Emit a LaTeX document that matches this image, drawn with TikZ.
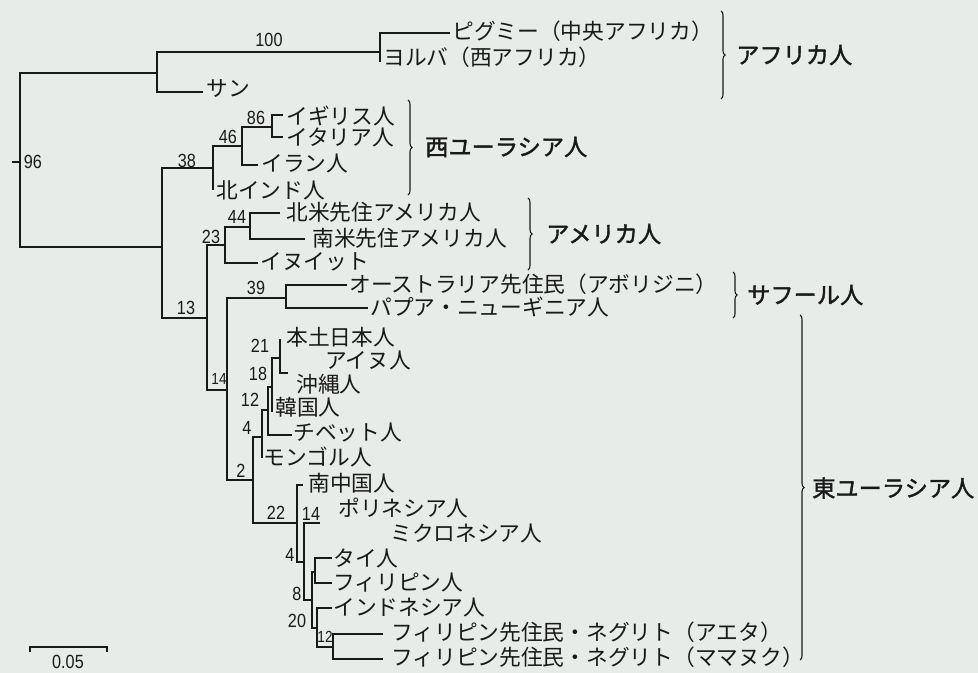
\documentclass[tikz,border=0pt]{standalone}
\usepackage{fontspec}
\setmainfont{Noto Sans CJK JP}
\newfontfamily\numfont[FakeStretch=0.85]{Liberation Sans}
\newfontfamily\grpfont[FakeBold=1.6]{Noto Sans CJK JP}
\usetikzlibrary{decorations.pathreplacing}
\definecolor{bg}{RGB}{232,236,233}
\definecolor{ink}{RGB}{25,25,25}
\begin{document}
\begin{tikzpicture}[x=0.75pt,y=-0.75pt,
  br/.style={draw=ink,line width=1pt},
  leaf/.style={anchor=west,inner sep=0pt,text=ink,font=\fontsize{16.3}{18}\selectfont},
  sv/.style={inner sep=0pt,text=ink,font=\numfont\fontsize{14.3}{14}\selectfont},
  svs/.style={inner sep=0pt,text=ink,font=\numfont\fontsize{12}{12}\selectfont},
  grp/.style={anchor=west,inner sep=0pt,text=ink,font=\grpfont\fontsize{17.4}{19}\selectfont},
  brc/.style={draw=ink,line width=0.8pt,decorate,decoration={brace,amplitude=3pt}}]
\fill[bg] (0,0) rectangle (978,673);
\useasboundingbox (0,0) rectangle (978,673);

% tree coordinates
\coordinate (R) at (20,162);
\coordinate (Rs) at (12,162);
\coordinate (nAf) at (157,73);
\coordinate (n100) at (380,52);
\coordinate (ePyg) at (450,33);
\coordinate (eYor) at (380,62);
\coordinate (eSan) at (203,92);
\coordinate (n13) at (162,247);
\coordinate (n38) at (213,168);
\coordinate (n46) at (242,146);
\coordinate (n86) at (272,127);
\coordinate (eUK) at (283,115);
\coordinate (eIta) at (283,137);
\coordinate (eIra) at (258,165);
\coordinate (eNIn) at (213,190);
\coordinate (nB) at (207,318);
\coordinate (n23) at (225,245);
\coordinate (n44) at (250,227);
\coordinate (eNAm) at (280,213);
\coordinate (eSAm) at (305,239);
\coordinate (eInu) at (258,263);
\coordinate (n14a) at (227,390);
\coordinate (n39) at (286,298);
\coordinate (eAbo) at (347,285);
\coordinate (ePap) at (368,308);
\coordinate (n2) at (253,480);
\coordinate (n4a) at (262,437);
\coordinate (n12a) at (268,410);
\coordinate (n18) at (272,387);
\coordinate (n21) at (280,358);
\coordinate (eHon) at (280,339);
\coordinate (eOki) at (288,373);
\coordinate (eKor) at (272,412);
\coordinate (eTib) at (292,435);
\coordinate (eMon) at (262,458);
\coordinate (n22) at (297,523);
\coordinate (eSCh) at (303,485);
\coordinate (n4b) at (304,562);
\coordinate (n14b) at (320,523);
\coordinate (n8) at (312,600);
\coordinate (nTF) at (315,572);
\coordinate (eTha) at (332,558);
\coordinate (eFil) at (332,583);
\coordinate (n20) at (317,628);
\coordinate (eIdn) at (332,608);
\coordinate (n12b) at (333,647);
\coordinate (eAet) at (383,634);
\coordinate (eMam) at (383,659);

% branches
\draw[br] (Rs) -- (R);
\draw[br] (R) |- (nAf);  \draw[br] (R) |- (n13);
\draw[br] (nAf) |- (n100); \draw[br] (nAf) |- (eSan);
\draw[br] (n100) |- (ePyg); \draw[br] (n100) |- (eYor);
\draw[br] (n13) |- (n38); \draw[br] (n13) |- (nB);
\draw[br] (n38) |- (n46); \draw[br] (n38) |- (eNIn);
\draw[br] (n46) |- (n86); \draw[br] (n46) |- (eIra);
\draw[br] (n86) |- (eUK); \draw[br] (n86) |- (eIta);
\draw[br] (nB) |- (n23); \draw[br] (nB) |- (n14a);
\draw[br] (n23) |- (n44); \draw[br] (n23) |- (eInu);
\draw[br] (n44) |- (eNAm); \draw[br] (n44) |- (eSAm);
\draw[br] (n14a) |- (n39); \draw[br] (n14a) |- (n2);
\draw[br] (n39) |- (eAbo); \draw[br] (n39) |- (ePap);
\draw[br] (n2) |- (n4a); \draw[br] (n2) |- (n22);
\draw[br] (n4a) |- (n12a); \draw[br] (n4a) |- (eMon);
\draw[br] (n12a) |- (n18); \draw[br] (n12a) |- (eTib);
\draw[br] (n18) |- (n21); \draw[br] (n18) |- (eKor);
\draw[br] (n21) |- (eHon); \draw[br] (n21) |- (eOki);
\draw[br] (n22) |- (eSCh); \draw[br] (n22) |- (n4b);
\draw[br] (n4b) |- (n14b); \draw[br] (n4b) |- (n8);
\draw[br] (n8) |- (nTF); \draw[br] (n8) |- (n20);
\draw[br] (nTF) |- (eTha); \draw[br] (nTF) |- (eFil);
\draw[br] (n20) |- (eIdn); \draw[br] (n20) |- (n12b);
\draw[br] (n12b) |- (eAet); \draw[br] (n12b) |- (eMam);

% support values
\node[sv] (s96) at (33,162) {96};
\node[sv] (s100) at (269,40) {100};
\node[sv] (s38) at (187,161) {38};
\node[sv] (s46) at (228,137) {46};
\node[sv] (s86) at (256,118) {86};
\node[sv] (s44) at (237,217) {44};
\node[sv] (s23) at (211,237) {23};
\node[sv] (s39) at (256,288) {39};
\node[sv] (s13) at (186,308) {13};
\node[svs] (s14a) at (219,379) {14};
\node[sv] (s21) at (260,346) {21};
\node[sv] (s18) at (258,374) {18};
\node[sv] (s12a) at (250,400) {12};
\node[sv] (s4a) at (247,428) {4};
\node[sv] (s2) at (241,471) {2};
\node[sv] (s22) at (276,513) {22};
\node[sv] (s14b) at (311,514) {14};
\node[sv] (s4b) at (290,555) {4};
\node[sv] (s8) at (297,594) {8};
\node[sv] (s20) at (297,621) {20};
\node[svs] (s12b) at (325,637) {12};

% leaf labels
\node[leaf] (tPyg) at (452,31) {ピグミー（中央アフリカ）};
\node[leaf] (tYor) at (383,57) {ヨルバ（西アフリカ）};
\node[leaf] (tSan) at (206,89) {サン};
\node[leaf] (tUK) at (286,116) {イギリス人};
\node[leaf] (tIta) at (286,137) {イタリア人};
\node[leaf] (tIra) at (261,163) {イラン人};
\node[leaf] (tNIn) at (216,190) {北インド人};
\node[leaf] (tNAm) at (286,212) {北米先住アメリカ人};
\node[leaf] (tSAm) at (312,238) {南米先住アメリカ人};
\node[leaf] (tInu) at (260,262) {イヌイット};
\node[leaf] (tAbo) at (349,284) {オーストラリア先住民（アボリジニ）};
\node[leaf] (tPap) at (370,307) {パプア・ニューギニア人};
\node[leaf] (tHon) at (286,337) {本土日本人};
\node[leaf] (tAin) at (325,360) {アイヌ人};
\node[leaf] (tOki) at (296,384) {沖縄人};
\node[leaf] (tKor) at (275,407) {韓国人};
\node[leaf] (tTib) at (293,433) {チベット人};
\node[leaf] (tMon) at (263,457) {モンゴル人};
\node[leaf] (tSCh) at (308,483) {南中国人};
\node[leaf] (tPol) at (338,508) {ポリネシア人};
\node[leaf] (tMic) at (390,533) {ミクロネシア人};
\node[leaf] (tTha) at (333,558) {タイ人};
\node[leaf] (tFil) at (333,583) {フィリピン人};
\node[leaf] (tIdn) at (333,607) {インドネシア人};
\node[leaf] (tAet) at (391,632) {フィリピン先住民・ネグリト（アエタ）};
\node[leaf] (tMam) at (391,657) {フィリピン先住民・ネグリト（ママヌク）};

% group braces
\coordinate (bAfT) at (721,11);  \coordinate (bAfB) at (721,99);
\coordinate (bWeT) at (408,100); \coordinate (bWeB) at (408,195);
\coordinate (bAmT) at (528,198); \coordinate (bAmB) at (528,270);
\coordinate (bSaT) at (733,272); \coordinate (bSaB) at (733,318);
\coordinate (bEaT) at (800,315); \coordinate (bEaB) at (800,660);
\draw[brc] (bAfT) -- (bAfB);
\draw[brc] (bWeT) -- (bWeB);
\draw[brc] (bAmT) -- (bAmB);
\draw[brc] (bSaT) -- (bSaB);
\draw[brc] (bEaT) -- (bEaB);
\node[grp] (gAf) at (736,55) {アフリカ人};
\node[grp] (gWe) at (425,147) {西ユーラシア人};
\node[grp] (gAm) at (546,234) {アメリカ人};
\node[grp] (gSa) at (747,295) {サフール人};
\node[grp] (gEa) at (812,488) {東ユーラシア人};

% scale bar
\coordinate (sbL) at (30,647);
\coordinate (sbR) at (107,647);
\draw[br] ([yshift=-4pt]sbL) -- (sbL) -- (sbR) -- ([yshift=-4pt]sbR);
\node[sv] (sbT) at (68,662) {0.05};
\end{tikzpicture}
\end{document}
